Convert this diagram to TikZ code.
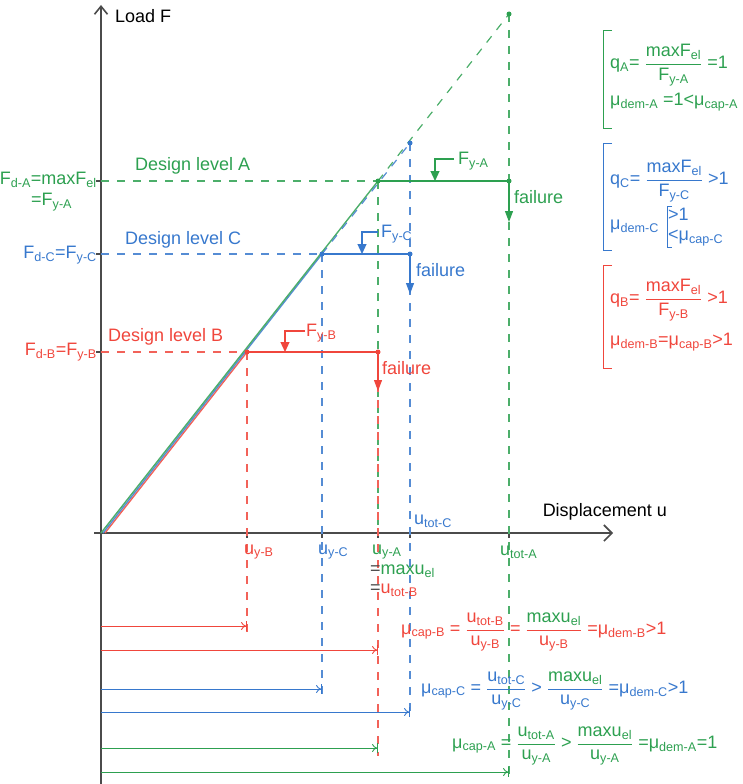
\documentclass[tikz,border=0pt]{standalone}
\usepackage{fontspec}
\setmainfont{Liberation Sans}
\usetikzlibrary{arrows.meta}
\definecolor{grA}{RGB}{45,160,80}
\definecolor{blC}{RGB}{55,120,205}
\definecolor{rdB}{RGB}{240,70,60}
\definecolor{axgray}{RGB}{75,75,75}
\newcommand{\sbs}[1]{\textsubscript{#1}}
\newcommand{\fr}[2]{\ensuremath{\displaystyle\frac{\mbox{#1}}{\mbox{#2}}}}

\begin{document}
\begin{tikzpicture}[x=1pt,y=-1pt,
  every node/.style={font=\fontsize{18}{20}\selectfont, inner sep=1pt},
  axis/.style={axgray, line width=1.6pt},
  elast/.style={line width=1.4pt},
  guide/.style={line width=1.2pt, dash pattern=on 8pt off 8pt},
  fail/.style={line width=1.2pt, -{Triangle[length=11pt,width=8pt]}},
  yieldmark/.style={line width=1.2pt, -{Triangle[length=10pt,width=9pt]}},
  meas/.style={line width=0.9pt, -{To[length=5pt,width=8pt,sep=0pt]Bar[width=10pt]}},
  dot/.style={circle, fill, inner sep=0pt, minimum size=5pt},
  bracket/.style={line width=0.9pt}]
  \useasboundingbox (0,0) rectangle (743,784);

  % axes
  \coordinate (O) at (101,533);
  \coordinate (ybot) at (101,784);
  \coordinate (ytop) at (101,5);
  \coordinate (xleft) at (94,533);
  \coordinate (xright) at (613,533);
  \draw[axis, -{Straight Barb[length=8pt,width=13pt]}] (ybot) -- (ytop);
  \draw[axis, -{Straight Barb[length=8pt,width=16pt]}] (xleft) -- (xright);
  \node[anchor=west] (loadF) at (114,16) {Load F};
  \node[anchor=east] (dispu) at (668,512) {Displacement u};
  \foreach \x in {247,322,378,410,509}
    \draw[axgray, line width=1.2pt] (\x,528) -- (\x,538);
  \foreach \y in {181,254,352}
    \draw[axgray, line width=1.2pt] (96,\y) -- (106,\y);

  % key points
  \coordinate (PA) at (378,181);
  \coordinate (PC) at (322,254);
  \coordinate (PB) at (247,352);
  \coordinate (TA) at (509,14);
  \coordinate (TC) at (410,143);
  \coordinate (FA) at (509,181);
  \coordinate (FC) at (410,254);
  \coordinate (FB) at (378,352);

  % vertical guides
  \draw[guide, grA!85] (TA) -- (509,778);
  \draw[guide, blC!85] (TC) -- (410,718);
  \draw[guide, grA!85] (PA) -- (378,533);
  \draw[guide, rdB!85] (FB) -- (378,756);
  \draw[guide, blC!85] (PC) -- (322,695);
  \draw[guide, rdB!85] (PB) -- (247,632);

  % elastic branches
  \draw[elast, rdB!85] ([xshift=4pt]O) -- (PB);
  \draw[elast, blC!85] ([xshift=2pt]O) -- (PC);
  \draw[elast, grA!85] (O) -- (PA);
  \draw[guide, blC!85] (PC) -- (TC);
  \draw[guide, grA!85] (PA) -- (TA);

  % design levels
  \draw[guide, grA!85] (101,181) -- (PA);
  \draw[elast, grA] (PA) -- (FA);
  \draw[guide, blC!85] (101,254) -- (PC);
  \draw[elast, blC] (PC) -- (FC);
  \draw[guide, rdB!85] (101,352) -- (PB);
  \draw[elast, rdB] (PB) -- (FB);

  \draw[fail, grA] (FA) -- (509,222);
  \draw[fail, blC] (FC) -- (410,294);
  \draw[fail, rdB] (FB) -- (378,391);

  \draw[yieldmark, grA] (454,159) -- (435,159) -- (435,181);
  \draw[yieldmark, blC] (378,232) -- (362,232) -- (362,254);
  \draw[yieldmark, rdB] (305,331) -- (285,331) -- (285,352);

  \node[dot, grA] (dPA) at (PA) {};
  \node[dot, grA] (dFA) at (FA) {};
  \node[dot, grA] (dTA) at (TA) {};
  \node[dot, blC] (dPC) at (PC) {};
  \node[dot, blC] (dFC) at (FC) {};
  \node[dot, blC] (dTC) at (TC) {};
  \node[dot, rdB] (dPB) at (PB) {};
  \node[dot, rdB] (dFB) at (FB) {};

  \node[grA, anchor=west] (levA) at (134,166) {Design level A};
  \node[blC, anchor=west] (levC) at (124,240) {Design level C};
  \node[rdB, anchor=west] (levB) at (107,337) {Design level B};
  \node[grA, anchor=west] (FyA) at (457,161) {F\sbs{y-A}};
  \node[blC, anchor=west] (FyC) at (380,234) {F\sbs{y-C}};
  \node[rdB, anchor=west] (FyB) at (305,333) {F\sbs{y-B}};
  \node[grA, anchor=west] (failA) at (513,197) {failure};
  \node[blC, anchor=west] (failC) at (415,270) {failure};
  \node[rdB, anchor=west] (failB) at (381,368) {failure};

  % load labels
  \node[grA, anchor=east] (FdA) at (98,180) {F\sbs{d-A}=maxF\sbs{el}};
  \node[grA, anchor=west] (FdA2) at (30,202) {=F\sbs{y-A}};
  \node[blC, anchor=east] (FdC) at (98,255) {F\sbs{d-C}=F\sbs{y-C}};
  \node[rdB, anchor=east] (FdB) at (98,352) {F\sbs{d-B}=F\sbs{y-B}};

  % displacement labels
  \node[rdB, anchor=west] (uyB) at (243,552) {u\sbs{y-B}};
  \node[blC, anchor=west] (uyC) at (317,552) {u\sbs{y-C}};
  \node[grA, anchor=west] (uyA) at (371,552) {u\sbs{y-A}};
  \node[anchor=west] (umax) at (369,571) {{\color{axgray}=}{\color{grA}maxu\sbs{el}}};
  \node[anchor=west] (utB) at (369,590) {{\color{axgray}=}{\color{rdB}u\sbs{tot-B}}};
  \node[grA, anchor=west] (utA) at (499,552) {u\sbs{tot-A}};
  \node[blC, anchor=west] (utC) at (413,521) {u\sbs{tot-C}};

  % ductility arrows
  \foreach \y/\x/\c in {626/247/rdB, 650/378/rdB, 689/322/blC, 712/410/blC, 748/378/grA, 772/509/grA}
    \draw[meas, \c] (101,\y) -- (\x,\y);

  \node[rdB, anchor=west] (muB) at (400,632)
    {μ\sbs{cap-B} = \fr{u\sbs{tot-B}}{u\sbs{y-B}} = \fr{\color{grA}maxu\sbs{el}}{u\sbs{y-B}} =μ\sbs{dem-B}>1};
  \node[blC, anchor=west] (muC) at (420,691)
    {μ\sbs{cap-C} = \fr{u\sbs{tot-C}}{u\sbs{y-C}} > \fr{\color{grA}maxu\sbs{el}}{u\sbs{y-C}} =μ\sbs{dem-C}>1};
  \node[grA, anchor=west] (muA) at (451,746)
    {μ\sbs{cap-A} = \fr{u\sbs{tot-A}}{u\sbs{y-A}} > \fr{maxu\sbs{el}}{u\sbs{y-A}} =μ\sbs{dem-A}=1};

  % summary boxes
  \draw[grA, bracket] (612,30) -- (603,30) -- (603,128) -- (612,128);
  \node[grA, anchor=west] (qA) at (609,65) {q\sbs{A}= \fr{maxF\sbs{el}}{F\sbs{y-A}} =1};
  \node[grA, anchor=west] (mA) at (609,102) {μ\sbs{dem-A} =1<μ\sbs{cap-A}};

  \draw[blC, bracket] (612,143) -- (603,143) -- (603,250) -- (612,250);
  \node[blC, anchor=west] (qC) at (609,181) {q\sbs{C}= \fr{maxF\sbs{el}}{F\sbs{y-C}} >1};
  \node[blC, anchor=west] (mC) at (609,226) {μ\sbs{dem-C}};
  \node[blC, anchor=west, align=left] (mCr) at (667,227) {>1\\<μ\sbs{cap-C}};
  \draw[blC, bracket] ([xshift=5pt]mCr.north west) -- (mCr.north west)
    -- (mCr.south west) -- ([xshift=5pt]mCr.south west);

  \draw[rdB, bracket] (612,265) -- (603,265) -- (603,368) -- (612,368);
  \node[rdB, anchor=west] (qB) at (609,300) {q\sbs{B}= \fr{maxF\sbs{el}}{F\sbs{y-B}} >1};
  \node[rdB, anchor=west] (mB) at (609,342) {μ\sbs{dem-B}=μ\sbs{cap-B}>1};
\end{tikzpicture}
\end{document}
